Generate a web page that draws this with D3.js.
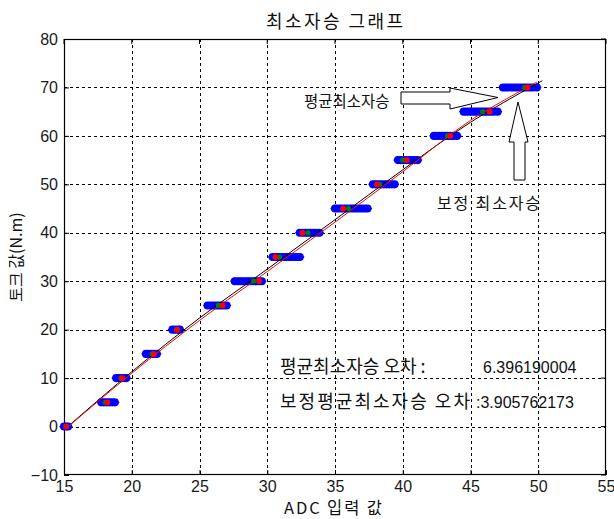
<!DOCTYPE html>
<html><head><meta charset="utf-8">
<script src="https://cdn.jsdelivr.net/npm/d3@7"></script>
<style>body{margin:0;background:#fff}svg{display:block}</style>
</head><body>
<script>
// ---- data ----
const xTicks = [15,20,25,30,35,40,45,50,55];
const yTicks = [-10,0,10,20,30,40,50,60,70,80];
const levels = [0,5,10,15,20,25,30,35,40,45,50,55,60,65,70];
// blue raw ADC readings per torque level
const blueX = [
  [15.0,15.15,15.3],
  [17.75,17.95,18.15,18.35,18.55,18.75],
  [18.85,19.05,19.25,19.45,19.6],
  [21.05,21.25,21.45,21.65,21.85],
  [23.0,23.2,23.4,23.55],
  [25.6,25.8,26.0,26.2,26.4,26.6,26.8,27.0],
  [27.6,27.8,28.0,28.2,28.4,28.6,28.8,29.0,29.2,29.4,29.6],
  [30.4,30.6,30.8,31.0,31.2,31.4,31.6,31.8,32.0,32.2,32.4],
  [32.4,32.6,32.8,33.0,33.2,33.4,33.6,33.85],
  [35.0,35.2,35.4,35.6,35.8,36.0,36.2,36.4,36.6,36.8,37.0,37.2,37.4],
  [37.8,38.0,38.2,38.4,38.6,38.8,39.0,39.2,39.4],
  [39.65,39.85,40.05,40.25,40.45,40.65,40.85,41.1],
  [42.3,42.5,42.7,42.9,43.1,43.3,43.5,43.7,44.0],
  [44.5,44.7,44.9,45.1,45.3,45.5,45.7,45.9,46.1,46.3,46.5,46.7,47.0],
  [47.4,47.6,47.8,48.0,48.2,48.4,48.6,48.8,49.0,49.2,49.4,49.6,49.9]
];
const redX = [15.15,18.2,19.3,21.65,23.35,26.7,29.4,30.6,32.6,35.6,38.1,40.3,43.5,46.4,49.2];
const greenX = [15.2,18.05,19.2,21.5,23.3,26.4,29.0,30.9,33.0,36.0,38.3,40.0,43.3,45.9,49.0];
// fitted curves (x, y)
const blackFit = [[15.2,-0.2],[20,11.3],[25,22.4],[30,32.5],[35,42.7],[40,53.0],[45,62.8],[50.3,71.4]];
const redFit = [[15.2,-0.3],[20,11.0],[25,21.9],[30,32.0],[35,42.2],[40,52.6],[45,63.2],[49.9,71.1]];
const titleText = "최소자승 그래프";
const xLabel = "ADC 입력 값";
const yLabel = "토크 값(N.m)";
const note1 = "평균최소자승 오차 :";
const note1Val = "6.396190004";
const note2a = "보정평균최소자승 오차";
const note2b = ":3.905762173";
const arrowLabel1 = "평균최소자승";
const arrowLabel2 = "보정 최소자승";

// ---- layout ----
const W = 614, H = 519;
const L = 64, T = 39, R = 606, B = 475;
const kfont = "'Noto Sans CJK KR', sans-serif";
const nfont = "'Liberation Sans', Arial, sans-serif";

const svg = d3.select("body").append("svg").attr("width", W).attr("height", H);
const x = d3.scaleLinear().domain([15,55]).range([L,R]);
const y = d3.scaleLinear().domain([-10,80]).range([B,T]);

// grid
const grid = svg.append("g").attr("stroke","#000").attr("stroke-width",1).attr("stroke-dasharray","3,3");
grid.selectAll(".gx").data(xTicks.slice(1,-1)).enter().append("line")
  .attr("x1",d=>Math.round(x(d))+0.5).attr("x2",d=>Math.round(x(d))+0.5).attr("y1",T).attr("y2",B);
grid.selectAll(".gy").data(yTicks.slice(1,-1)).enter().append("line")
  .attr("y1",d=>Math.round(y(d))+0.5).attr("y2",d=>Math.round(y(d))+0.5).attr("x1",L).attr("x2",R);

// axes
const xAxis = svg.append("g").attr("transform",`translate(0,${B})`)
  .call(d3.axisBottom(x).tickValues(xTicks).tickSize(-5).tickPadding(6).tickFormat(d3.format("d")));
const yAxis = svg.append("g").attr("transform",`translate(${L},0)`)
  .call(d3.axisLeft(y).tickValues(yTicks).tickSize(-5).tickPadding(6).tickFormat(d3.format("d")));
[xAxis,yAxis].forEach(a=>{
  a.select(".domain").remove();
  a.selectAll("line").attr("stroke","#000");
  a.selectAll("text").attr("font-family",nfont).attr("font-size",16).attr("fill","#1a1a1a");
});
// right/top ticks
svg.append("g").selectAll("line").data(xTicks).enter().append("line")
  .attr("x1",d=>x(d)).attr("x2",d=>x(d)).attr("y1",T).attr("y2",T+5).attr("stroke","#000");
svg.append("g").selectAll("line").data(yTicks).enter().append("line")
  .attr("y1",d=>y(d)).attr("y2",d=>y(d)).attr("x1",R).attr("x2",R-5).attr("stroke","#000");
svg.append("rect").attr("x",L+0.5).attr("y",T+0.5).attr("width",R-L-1).attr("height",B-T-1)
  .attr("fill","none").attr("stroke","#000").attr("stroke-width",1.2);

// blue points
const bluePts = [];
blueX.forEach((arr,i)=>arr.forEach(v=>bluePts.push([v,levels[i]])));
const gb = svg.append("g").attr("fill","#0000ff").attr("stroke","#0000ff").attr("stroke-width",1.3);
bluePts.forEach(p=>{
  const cx=x(p[0]), cy=y(p[1]);
  gb.append("circle").attr("cx",cx).attr("cy",cy).attr("r",3.4);
  gb.append("line").attr("x1",cx-4.5).attr("x2",cx+4.5).attr("y1",cy).attr("y2",cy);
});

// fit lines
const line = d3.line().x(d=>x(d[0])).y(d=>y(d[1])).curve(d3.curveCatmullRom);
svg.append("path").datum(blackFit).attr("d",line).attr("fill","none").attr("stroke","#000").attr("stroke-width",1);
svg.append("path").datum(redFit).attr("d",line).attr("fill","none").attr("stroke","#ff0000").attr("stroke-width",1);

// green & red markers
svg.append("g").selectAll("circle").data(greenX).enter().append("circle")
  .attr("cx",d=>x(d)).attr("cy",(d,i)=>y(levels[i])).attr("r",2.6).attr("fill","#008000");
svg.append("g").selectAll("circle").data(redX).enter().append("circle")
  .attr("cx",d=>x(d)).attr("cy",(d,i)=>y(levels[i])).attr("r",2.9).attr("fill","#ff0000");

// arrows (hollow block arrows)
svg.append("path").attr("d","M401,92 L450,92 L450,88 L498,97.5 L450,109 L450,104 L401,104 Z")
  .attr("fill","#fff").attr("stroke","#000").attr("stroke-width",1);
svg.append("path").attr("d","M518,102 L528,142 L525,142 L525,180 L514,180 L514,142 L509,142 Z")
  .attr("fill","#fff").attr("stroke","#000").attr("stroke-width",1);

// texts
const txt = (s,xx,yy,opts={})=>{
  const t = svg.append("text").attr("x",xx).attr("y",yy).text(s)
    .attr("font-family",opts.f||kfont).attr("font-size",opts.s||15).attr("fill","#111")
    .attr("text-anchor",opts.a||"start");
  if(opts.len) t.attr("textLength",opts.len).attr("lengthAdjust","spacing");
  return t;
};
txt(titleText, 266, 28, {s:18, len:137});
txt(xLabel, 284, 514, {s:16.5, len:98});
svg.append("text").attr("transform",`translate(22,${(T+B)/2}) rotate(-90)`).attr("text-anchor","middle")
  .attr("font-family",kfont).attr("font-size",16).attr("fill","#111").text(yLabel);
txt(arrowLabel1, 304, 107, {s:15.5});
txt(arrowLabel2, 437, 209, {s:16, len:103});
txt(note1, 280, 373, {s:18});
txt(note1Val, 483, 373, {s:16, f:nfont});
txt(note2a, 280, 408, {s:18, len:190});
txt(note2b, 476, 408, {s:16, f:nfont});
</script>
</body></html>
